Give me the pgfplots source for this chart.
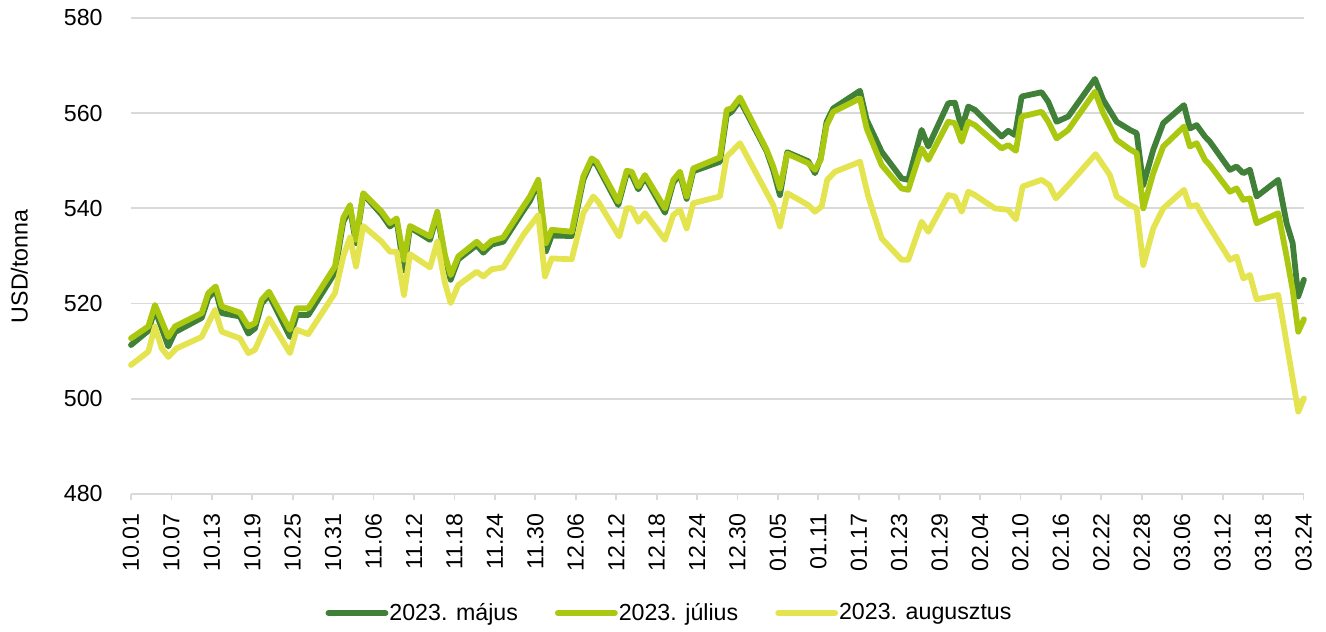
\documentclass[border=0pt]{standalone}
\usepackage{fontspec}
\setmainfont{Liberation Sans}
\usepackage{pgfplots}
\pgfplotsset{compat=1.18}
\definecolor{cMay}{RGB}{64,128,56}
\definecolor{cJul}{RGB}{170,200,16}
\definecolor{cAug}{RGB}{228,228,80}
\definecolor{cGrid}{RGB}{217,217,217}
\newcommand{\ff}{\fontsize{11.6}{13.9}\selectfont}
\begin{document}
\begin{tikzpicture}
\begin{axis}[
  at={(0,0)}, anchor=south west,
  scale only axis, width=586.25pt, height=238pt,
  xmin=0, xmax=174, ymin=480, ymax=580,
  xtick={0,6,...,174},
  xticklabels={10.01,10.07,10.13,10.19,10.25,10.31,11.06,11.12,11.18,11.24,11.30,12.06,12.12,12.18,12.24,12.30,01.05,01.11,01.17,01.23,01.29,02.04,02.10,02.16,02.22,02.28,03.06,03.12,03.18,03.24},
  ytick={480,500,...,580},
  axis x line=bottom, axis y line=left,
  x axis line style={-, draw=cGrid, line width=0.9pt},
  y axis line style={draw=none},
  ymajorgrids, grid style={draw=cGrid, line width=0.9pt},
  tick align=outside, major tick length=3pt,
  xtick style={draw=cGrid, line width=0.9pt},
  ytick style={draw=none},
  /pgf/number format/assume math mode=true,
  yticklabel style={font=\ff, anchor=east, inner sep=0pt, xshift=-11pt},
  xticklabel style={font=\ff, rotate=90, anchor=east, inner sep=0pt},
  xticklabel shift=6.5pt,
  ylabel={USD/tonna},
  ylabel style={font=\ff, at={(axis description cs:-0.0953,0.478)}, anchor=center, rotate=0},
  clip=false,
  legend columns=3,
  legend style={draw=none, fill=none, font=\ff, at={(axis description cs:0.4589,-0.25)}, anchor=center,
    /tikz/every even column/.append style={column sep=18pt},
    nodes={inner sep=0.5pt}},
  legend image code/.code={\draw[#1] (0pt,0pt) -- (28.5pt,0pt);},
  every axis plot/.append style={line width=2.9pt, line join=round, line cap=round},
]
\addplot[cMay] coordinates {
(0,511.3)(2.57,514.3)(3.56,518.8)(5.53,511.0)(6.53,514.0)(10.49,517.0)(11.47,521.2)(12.57,522.8)(13.46,518.0)
(16.17,517.3)(17.41,513.7)(18.40,514.8)(19.39,520.0)(20.48,521.8)(23.59,513.0)(24.59,517.6)(26.31,517.6)
(30.27,526.5)(31.50,537.2)(32.50,540.0)(33.39,532.7)(34.47,543.0)(37.20,538.7)(38.43,536.2)(39.43,537.4)
(40.51,527.0)(41.40,536.0)(44.37,533.4)(45.45,538.8)(46.59,529.5)(47.44,525.0)(48.57,529.3)(51.30,532.3)
(52.28,530.7)(53.52,532.4)(55.25,533.0)(58.21,539.5)(59.21,541.6)(60.44,545.5)(61.58,531.0)(62.43,534.3)
(65.40,534.2)(67.12,546.0)(68.36,550.0)(69.10,549.2)(72.31,540.7)(73.56,547.3)(74.30,547.0)(75.28,544.0)
(76.27,546.5)(79.24,539.1)(80.47,545.4)(81.47,547.2)(82.46,542.0)(83.44,547.8)(87.40,549.8)(88.40,559.6)
(89.14,560.3)(90.37,562.7)(94.33,552.0)(95.31,548.0)(96.30,542.8)(97.39,551.8)(100.50,549.9)(101.50,547.4)
(102.34,550.5)(103.23,558.2)(104.21,561.0)(108.18,564.7)(109.17,558.6)(111.40,551.9)(114.36,546.3)(115.34,546.0)
(117.33,556.5)(118.31,553.0)(121.28,562.1)(122.27,562.2)(123.27,556.8)(124.25,561.4)(125.24,560.7)(129.20,555.1)
(130.18,556.3)(131.18,555.4)(132.17,563.5)(135.14,564.4)(136.12,562.4)(137.36,558.2)(139.09,559.3)(143.05,567.2)
(144.28,562.8)(146.27,558.2)(148.24,556.5)(149.24,555.8)(150.22,544.9)(151.70,552.3)(153.18,557.9)(156.26,561.7)
(157.14,556.8)(158.14,557.5)(159.37,555.1)(160.11,554.0)(163.08,548.1)(164.07,548.8)(165.06,547.4)(166.05,548.1)
(167.04,542.5)(170.25,546.0)(171.49,536.9)(172.39,532.7)(173.22,521.5)(174.06,525.0)
};
\addlegendentry{2023. május}
\addplot[cJul] coordinates {
(0,512.7)(2.57,515.2)(3.56,519.7)(5.53,513.0)(6.53,515.2)(10.49,518.0)(11.47,522.2)(12.57,523.6)(13.46,519.4)
(16.17,518.1)(17.41,515.2)(18.40,515.9)(19.39,520.8)(20.48,522.5)(23.59,514.5)(24.59,519.0)(26.31,519.0)
(30.27,527.8)(31.50,538.0)(32.50,540.7)(33.39,533.4)(34.47,543.2)(37.20,539.3)(38.43,536.9)(39.43,537.9)
(40.51,529.2)(41.40,536.3)(44.37,534.1)(45.45,539.3)(46.59,530.2)(47.44,526.0)(48.57,529.9)(51.30,533.0)
(52.28,531.6)(53.52,533.2)(55.25,533.9)(58.21,540.4)(59.21,542.5)(60.44,546.0)(61.58,532.7)(62.43,535.5)
(65.40,535.1)(67.12,546.7)(68.36,550.5)(69.10,549.8)(72.31,541.4)(73.56,547.9)(74.30,547.7)(75.28,544.6)
(76.27,547.0)(79.24,540.0)(80.47,546.0)(81.47,547.7)(82.46,542.5)(83.44,548.4)(87.40,550.7)(88.40,560.7)
(89.14,561.0)(90.37,563.3)(94.33,552.3)(95.31,548.8)(96.30,544.2)(97.39,551.5)(100.50,549.5)(101.50,548.1)
(102.34,550.2)(103.23,557.5)(104.21,560.3)(108.18,563.1)(109.17,556.8)(111.40,549.1)(114.36,544.2)(115.34,543.9)
(117.33,552.6)(118.31,550.2)(121.28,558.2)(122.27,557.9)(123.27,554.0)(124.25,558.2)(125.24,557.5)(129.20,552.6)
(130.18,553.3)(131.32,552.1)(132.17,559.3)(135.14,560.3)(136.12,558.2)(137.36,554.7)(139.09,556.5)(143.05,564.5)
(144.28,560.0)(146.27,554.4)(148.24,552.4)(149.24,551.6)(150.22,540.0)(151.70,547.4)(153.18,553.0)(156.26,557.2)
(157.14,553.0)(158.14,553.7)(159.37,550.2)(160.11,549.1)(163.08,543.5)(164.07,544.2)(165.06,541.8)(166.05,542.1)
(167.04,536.9)(170.25,539.0)(171.49,529.9)(172.39,522.9)(173.22,514.1)(174.06,516.7)
};
\addlegendentry{2023. július}
\addplot[cAug] coordinates {
(0,507.1)(2.57,509.9)(3.56,515.2)(4.56,510.6)(5.53,508.8)(6.78,510.6)(10.49,513.0)(12.46,518.7)(13.46,514.1)
(16.17,512.7)(17.41,509.6)(18.40,510.3)(20.48,516.9)(23.59,509.6)(24.59,514.5)(26.31,513.6)
(30.27,522.2)(31.50,529.9)(32.50,533.9)(33.39,527.8)(34.47,536.3)(37.20,533.0)(38.43,530.9)(39.43,530.9)
(40.51,521.8)(41.40,530.4)(44.37,527.6)(45.45,533.0)(46.59,524.3)(47.44,520.1)(48.57,523.9)(51.30,526.7)
(52.28,525.7)(53.52,527.2)(55.25,527.6)(58.21,534.4)(60.44,538.6)(61.43,525.7)(62.43,529.5)
(65.40,529.3)(67.12,539.0)(68.60,542.5)(69.34,541.4)(72.46,534.1)(73.56,540.0)(74.30,540.0)(75.28,537.2)
(76.27,539.0)(79.24,533.4)(80.47,538.6)(81.47,539.7)(82.46,535.8)(83.44,541.1)(87.40,542.5)(88.40,550.9)
(89.14,551.9)(90.37,553.7)(95.31,540.7)(96.30,536.2)(97.39,543.2)(100.50,540.7)(101.50,539.3)
(102.49,540.4)(103.32,546.0)(104.47,547.7)(108.18,549.8)(109.41,542.5)(111.40,533.7)(114.36,529.2)(115.34,529.2)
(117.33,537.2)(118.31,535.1)(121.28,542.8)(122.27,542.5)(123.27,539.3)(124.25,543.5)(125.24,542.8)(128.21,540.0)
(130.18,539.7)(131.32,537.7)(132.32,544.6)(135.14,546.0)(136.27,544.9)(137.26,542.1)(139.09,544.9)(143.15,551.4)
(145.27,547.0)(146.27,542.5)(148.24,540.7)(149.24,540.0)(150.22,528.1)(151.70,535.8)(153.18,540.0)(156.26,543.9)
(157.14,540.4)(158.14,540.7)(159.37,537.6)(163.08,529.2)(164.07,529.9)(165.06,525.3)(166.05,526.0)
(167.04,520.9)(170.25,521.8)(170.99,515.9)(173.22,497.3)(174.06,500.1)
};
\addlegendentry{2023. augusztus}
\end{axis}
\pgfresetboundingbox
\path[use as bounding box] (-65.5pt,-68.5pt) rectangle (597.5pt,247pt);
\end{tikzpicture}
\end{document}
